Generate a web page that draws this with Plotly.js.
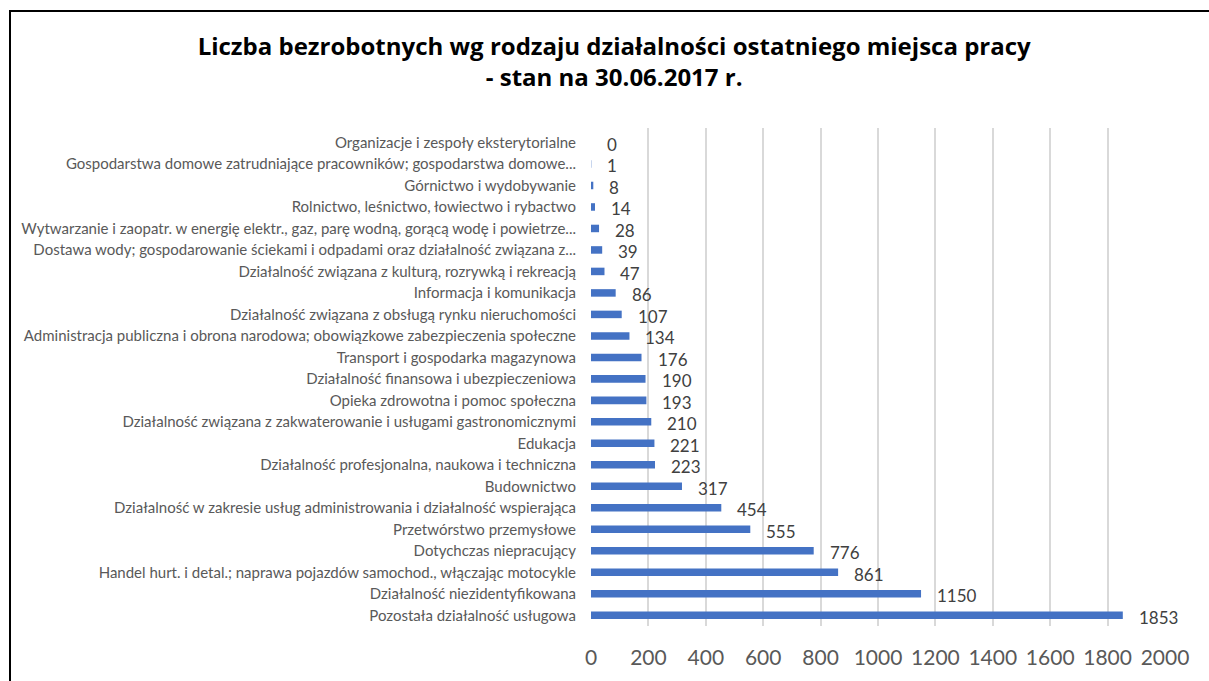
<!DOCTYPE html>
<html>
<head>
<meta charset="utf-8">
<script src="https://cdn.plot.ly/plotly-3.0.1.min.js"></script>
<style>
html, body { margin: 0; padding: 0; background: #fff; overflow: hidden; }
#chart { position: absolute; left: 0; top: 0; width: 1209px; height: 681px; }
#frame { position: absolute; left: 9px; top: 10px; width: 1300px; height: 800px; border: 2px solid #000; pointer-events: none; }
</style>
</head>
<body>
<div id="chart"></div>
<div id="frame"></div>
<script>
const categories = [
  "Organizacje i zespoły eksterytorialne",
  "Gospodarstwa domowe zatrudniające pracowników; gospodarstwa domowe...",
  "Górnictwo i wydobywanie",
  "Rolnictwo, leśnictwo, łowiectwo i rybactwo",
  "Wytwarzanie i zaopatr. w energię elektr., gaz, parę wodną, gorącą wodę i powietrze...",
  "Dostawa wody; gospodarowanie ściekami i odpadami oraz działalność związana z...",
  "Działalność związana z kulturą, rozrywką i rekreacją",
  "Informacja i komunikacja",
  "Działalność związana z obsługą rynku nieruchomości",
  "Administracja publiczna i obrona narodowa; obowiązkowe zabezpieczenia społeczne",
  "Transport i gospodarka magazynowa",
  "Działalność finansowa i ubezpieczeniowa",
  "Opieka zdrowotna i pomoc społeczna",
  "Działalność związana z zakwaterowanie i usługami gastronomicznymi",
  "Edukacja",
  "Działalność profesjonalna, naukowa i techniczna",
  "Budownictwo",
  "Działalność w zakresie usług administrowania i działalność wspierająca",
  "Przetwórstwo przemysłowe",
  "Dotychczas niepracujący",
  "Handel hurt. i detal.; naprawa pojazdów samochod., włączając motocykle",
  "Działalność niezidentyfikowana",
  "Pozostała działalność usługowa"
];
const values = [0, 1, 8, 14, 28, 39, 47, 86, 107, 134, 176, 190, 193, 210, 221, 223, 317, 454, 555, 776, 861, 1150, 1853];
const xTicks = [0, 200, 400, 600, 800, 1000, 1200, 1400, 1600, 1800, 2000];
const titleText = "Liczba bezrobotnych wg rodzaju działalności ostatniego miejsca pracy<br>- stan na 30.06.2017 r.";

const trace = {
  type: "bar",
  orientation: "h",
  x: values,
  y: categories,
  width: 0.35,
  marker: { color: "#4472C4" },
  hoverinfo: "x+y"
};

const annotations = values.map((v, i) => ({
  x: v, y: categories[i], xref: "x", yref: "y",
  text: String(v), showarrow: false,
  xanchor: "left", yanchor: "middle", xshift: 14, yshift: -2,
  font: { family: "Lato, sans-serif", size: 17, color: "#404040" }
}));

const layout = {
  width: 1209, height: 681,
  margin: { l: 591, r: 44, t: 128, b: 55, pad: 0 },
  paper_bgcolor: "#fff", plot_bgcolor: "#fff",
  showlegend: false,
  title: {
    text: titleText,
    x: 0.508, xref: "container", xanchor: "center",
    y: 1 - 55 / 681, yref: "container", yanchor: "top",
    font: { family: "Open Sans, sans-serif", size: 24, color: "#000", weight: "bold" }
  },
  xaxis: {
    range: [0, 2000], tickvals: xTicks, ticktext: xTicks.map(String),
    showgrid: true, gridcolor: "#d9d9d9", gridwidth: 2,
    zeroline: false, showline: false, ticks: "",
    ticklabelstandoff: 17,
    tickfont: { family: "Lato, sans-serif", size: 21, color: "#595959" },
    fixedrange: true
  },
  yaxis: {
    type: "category", autorange: "reversed",
    showgrid: false, zeroline: false, showline: false, ticks: "",
    ticklabelstandoff: 14,
    tickfont: { family: "Lato, sans-serif", size: 15, color: "#595959" },
    fixedrange: true
  },
  annotations: annotations
};

Plotly.newPlot("chart", [trace], layout, { displayModeBar: false, staticPlot: true });
</script>
</body>
</html>
